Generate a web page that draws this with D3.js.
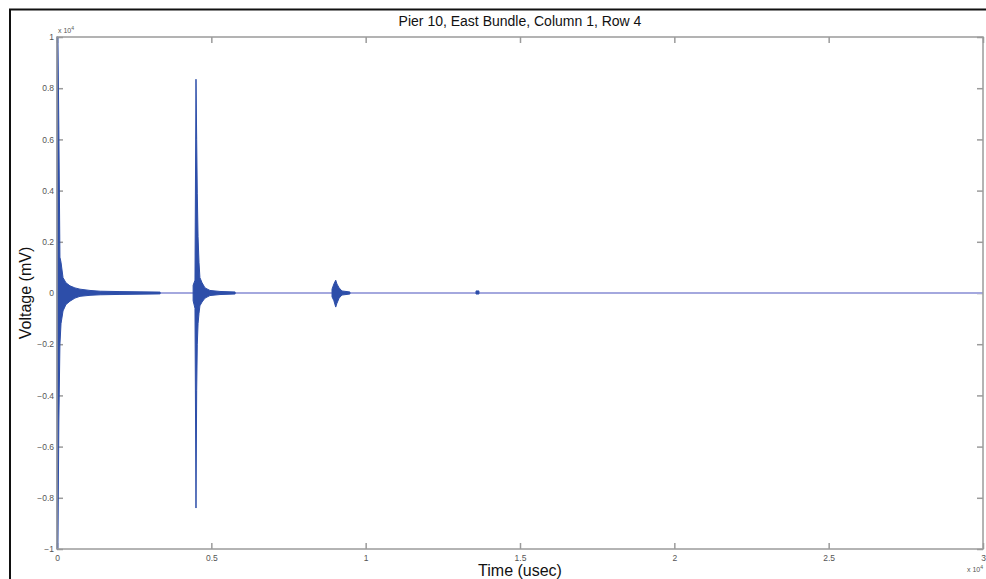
<!DOCTYPE html>
<html>
<head>
<meta charset="utf-8">
<script src="https://cdn.jsdelivr.net/npm/d3@7"></script>
<style>
  body { margin: 0; background: #fff; }
  text { font-family: "Liberation Sans", Arial, sans-serif; }
</style>
</head>
<body>
<div id="graphic"></div>
<script>
var envTime  = [0, 30, 60, 95, 130, 195, 290, 420, 580, 745, 1070, 1400, 2040, 2690, 3340, 4150,
                4380, 4410, 4470, 4503, 4525, 4545, 4570, 4600, 4630, 4700, 4795, 4955, 5280, 5770, 6090,
                8880, 8910, 8970, 9030, 9070, 9140, 9230, 9490, 9650,
                13510, 13575, 13670, 13740, 30000];
var envUpper = [10000, 10000, 6400, 1400, 1200, 600, 400, 280, 200, 150, 100, 70, 55, 45, 35, 20,
                20, 300, 500, 8350, 6000, 3900, 2200, 1200, 600, 400, 200, 100, 60, 40, 20,
                20, 150, 350, 500, 350, 200, 80, 40, 20,
                20, 80, 80, 20, 20];
var envLower = [-10000, -10000, -5000, -2000, -1200, -700, -450, -320, -200, -130, -90, -70, -55, -45, -35, -20,
                -20, -300, -600, -8400, -3800, -2000, -1200, -800, -500, -350, -200, -100, -60, -40, -20,
                -20, -150, -300, -550, -400, -200, -80, -40, -20,
                -20, -40, -40, -20, -20];

var xTicks = [0, 5000, 10000, 15000, 20000, 25000, 30000];
var yTicks = [-10000, -8000, -6000, -4000, -2000, 0, 2000, 4000, 6000, 8000, 10000];

var titleText = "Pier 10, East Bundle, Column 1, Row 4";
var xLabel = "Time (usec)";
var yLabel = "Voltage (mV)";

var width = 986, height = 579;
var margin = { left: 57, right: 3, top: 37, bottom: 30 };
var chart_width = width - margin.left - margin.right;
var chart_height = height - margin.top - margin.bottom;

var svg = d3.select("#graphic").append("svg")
  .attr("width", width)
  .attr("height", height)
  .style("background-color", "#fff");

// outer frame (only top and left edges visible)
svg.append("path")
  .attr("d", "M10,579V9.5H986")
  .attr("fill", "none")
  .attr("stroke", "#111")
  .attr("stroke-width", 2);

var g = svg.append("g")
  .attr("transform", "translate(" + margin.left + "," + margin.top + ")");

var x = d3.scaleLinear().domain([0, 30000]).range([0, chart_width]);
var y = d3.scaleLinear().domain([-10000, 10000]).range([chart_height, 0]);

var fmt = function(d) { return d3.format("~g")(d / 10000); };

// axes with inward ticks on all four sides
var axisColour = "#9b9b9b";
function styleAxis(sel) {
  sel.select(".domain").remove();
  sel.selectAll("line").attr("stroke", axisColour).attr("stroke-width", 1.5);
  sel.selectAll("text").attr("fill", "#555").style("font-size", "8.5px");
}

g.append("g")
  .attr("transform", "translate(0," + chart_height + ")")
  .call(d3.axisBottom(x).tickValues(xTicks).tickFormat(fmt).tickSize(-6).tickPadding(6))
  .call(styleAxis);

g.append("g")
  .call(d3.axisTop(x).tickValues(xTicks).tickFormat("").tickSize(-6))
  .call(styleAxis);

g.append("g")
  .call(d3.axisLeft(y).tickValues(yTicks).tickFormat(fmt).tickSize(-6).tickPadding(3))
  .call(styleAxis);

g.append("g")
  .attr("transform", "translate(" + chart_width + ",0)")
  .call(d3.axisRight(y).tickValues(yTicks).tickFormat("").tickSize(-6))
  .call(styleAxis);

// baseline trace
g.append("line")
  .attr("x1", x(0)).attr("x2", x(30000))
  .attr("y1", y(0)).attr("y2", y(0))
  .attr("stroke", "#a4a8de")
  .attr("stroke-width", 2);

// signal envelope, drawn only where the bursts stand out from the baseline
var env = envTime.map(function(t, i) { return { t: t, hi: envUpper[i], lo: envLower[i] }; });

var area = d3.area()
  .defined(function(d) { return d.hi > 20; })
  .x(function(d) { return x(d.t); })
  .y0(function(d) { return y(d.lo); })
  .y1(function(d) { return y(d.hi); });

g.append("path")
  .datum(env)
  .attr("d", area)
  .attr("fill", "#2d4ea9")
  .attr("stroke", "#2d4ea9")
  .attr("stroke-width", 1)
  .attr("stroke-linejoin", "round");

// box
g.append("rect")
  .attr("width", chart_width)
  .attr("height", chart_height)
  .attr("fill", "none")
  .attr("stroke", axisColour)
  .attr("stroke-width", 1.5);

// exponent labels
var expTop = g.append("text")
  .attr("x", 1).attr("y", -4)
  .attr("fill", "#555")
  .style("font-size", "7px")
  .text("x 10");
expTop.append("tspan").attr("dy", -3).style("font-size", "5px").text("4");

var expBot = g.append("text")
  .attr("x", chart_width).attr("y", chart_height + 23)
  .attr("text-anchor", "end")
  .attr("fill", "#555")
  .style("font-size", "7px")
  .text("x 10");
expBot.append("tspan").attr("dy", -3).style("font-size", "5px").text("4");

// title and axis labels
svg.append("text")
  .attr("x", margin.left + chart_width / 2)
  .attr("y", 26)
  .attr("text-anchor", "middle")
  .attr("fill", "#111")
  .style("font-size", "14px")
  .text(titleText);

svg.append("text")
  .attr("x", margin.left + chart_width / 2)
  .attr("y", 576)
  .attr("text-anchor", "middle")
  .attr("fill", "#111")
  .style("font-size", "16px")
  .text(xLabel);

svg.append("text")
  .attr("transform", "translate(31," + (margin.top + chart_height / 2) + ") rotate(-90)")
  .attr("text-anchor", "middle")
  .attr("fill", "#111")
  .style("font-size", "16px")
  .text(yLabel);
</script>
</body>
</html>
